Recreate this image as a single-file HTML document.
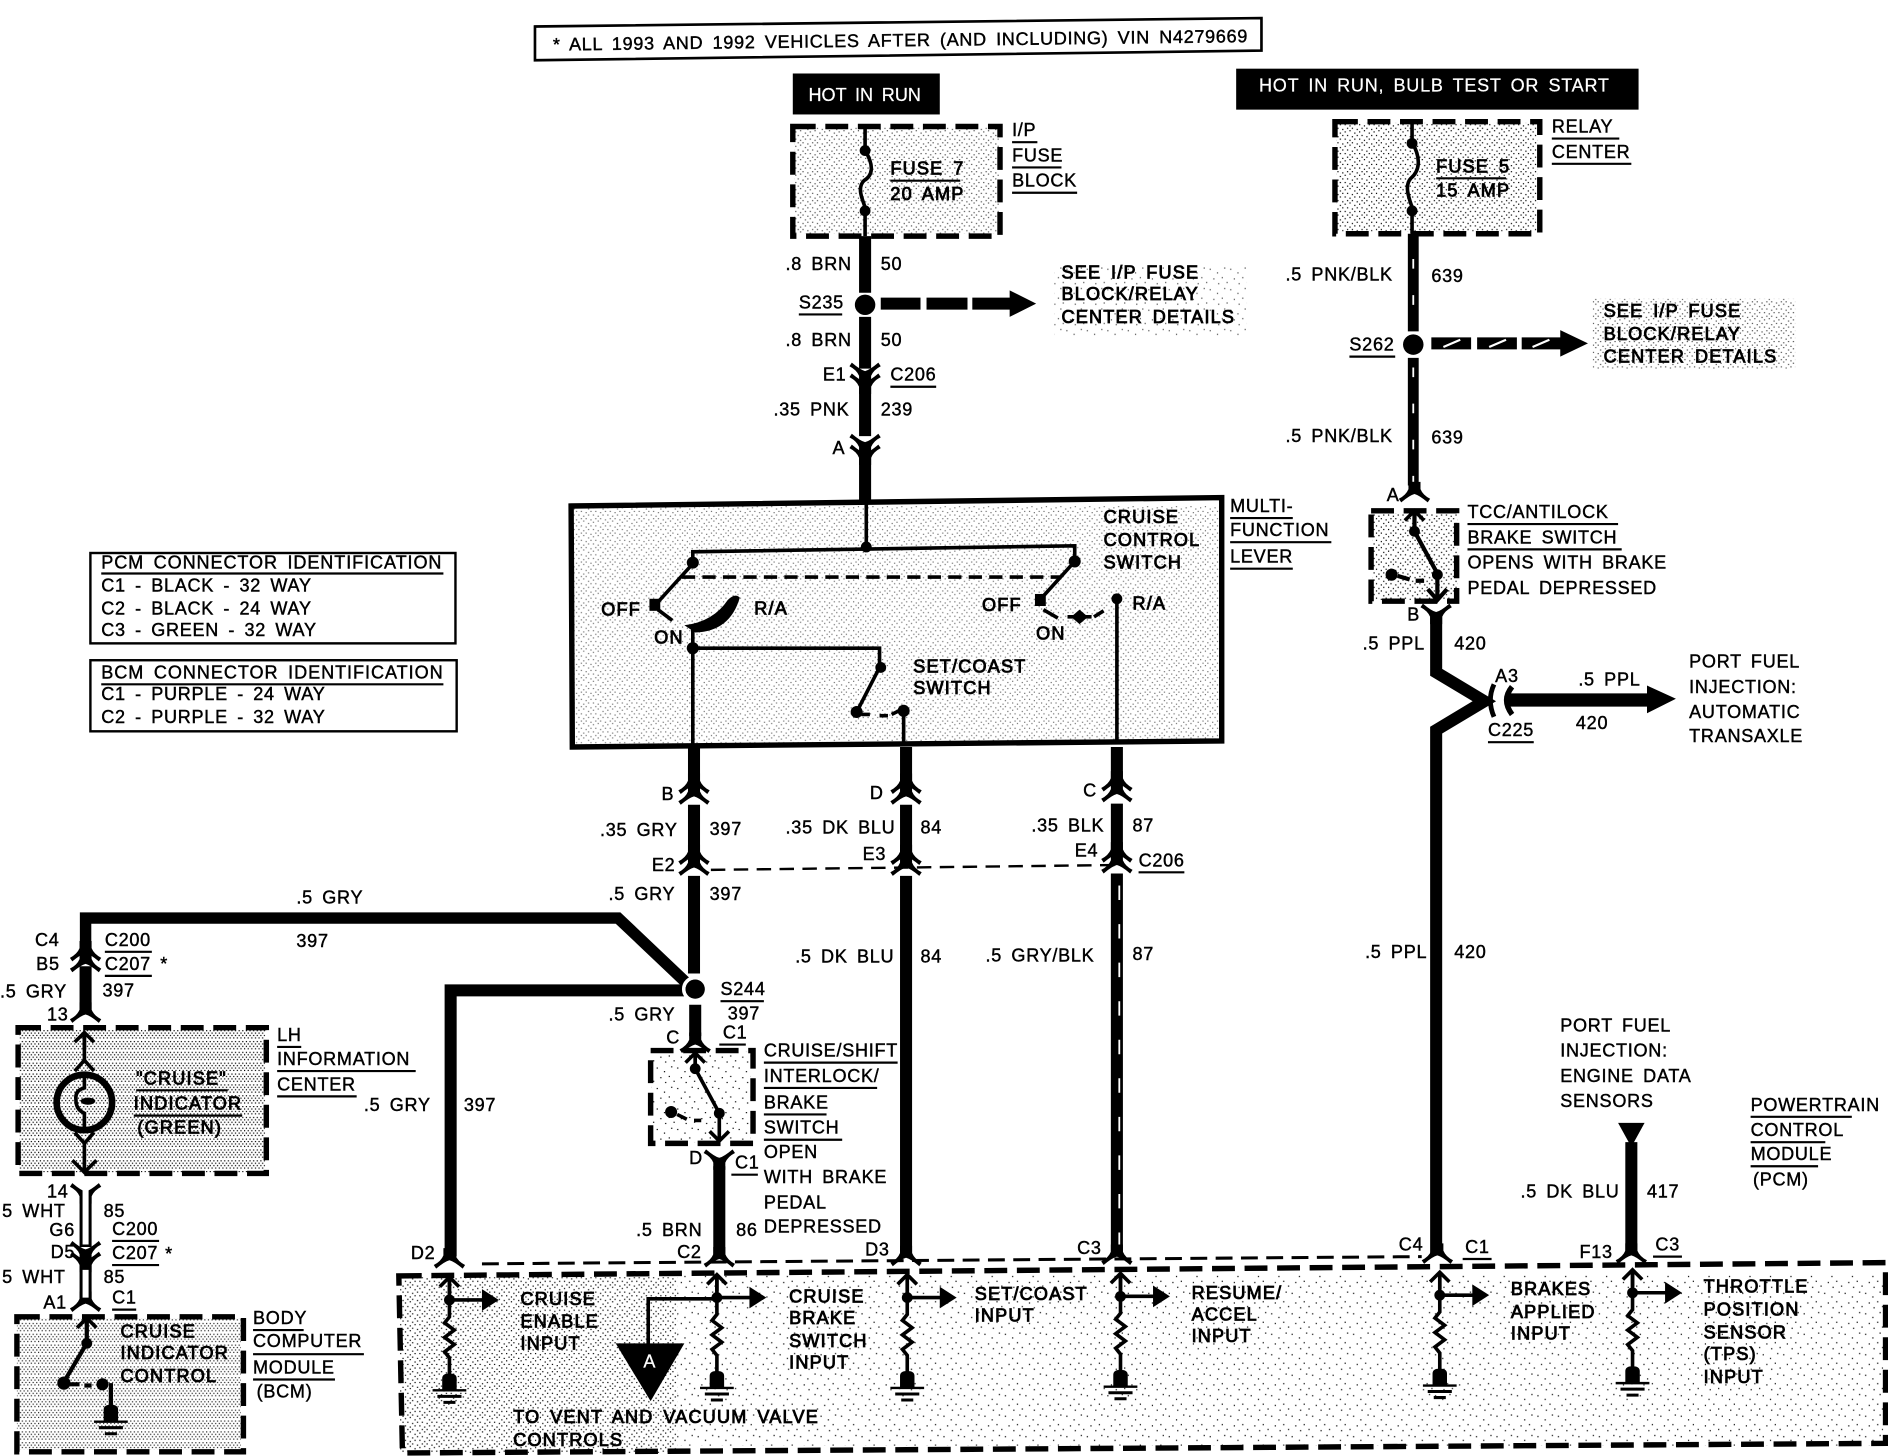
<!DOCTYPE html>
<html><head><meta charset="utf-8"><title>Cruise control wiring diagram</title>
<style>
html,body{margin:0;padding:0;background:#fff;width:1888px;height:1456px;overflow:hidden}
svg{display:block}
text{font-family:"Liberation Sans",sans-serif;font-size:15px;fill:#000;stroke:#000;stroke-width:.35;letter-spacing:.6px;word-spacing:3px}
.b text{stroke-width:.7;letter-spacing:1px}
.w{fill:#fff;stroke:#fff;stroke-width:.2}
.u{stroke:#000;stroke-width:1.8;fill:none}
.dash{fill:none;stroke:#000;stroke-width:4.5;stroke-dasharray:19 8}
.t{fill:none;stroke:#000;stroke-width:3}
</style></head><body>
<svg xmlns="http://www.w3.org/2000/svg" width="1888" height="1456" viewBox="0 0 1567 1208.5">
<defs>
<pattern id="pd" width="9" height="9" patternUnits="userSpaceOnUse">
<rect x="0" y="0" width="1" height="1"/><rect x="3" y="0" width="1" height="1"/><rect x="6" y="0" width="1" height="1"/>
<rect x="1.5" y="2" width="1" height="1"/><rect x="4.5" y="2" width="1" height="1"/><rect x="7.5" y="2" width="1" height="1"/>
<rect x="0" y="4" width="1" height="1"/><rect x="3" y="4" width="1" height="1"/><rect x="6" y="4" width="1" height="1"/>
<rect x="1.5" y="6" width="1" height="1"/><rect x="4.5" y="6" width="1" height="1"/><rect x="7.5" y="6" width="1" height="1"/>
</pattern>
<pattern id="pm" width="12" height="12" patternUnits="userSpaceOnUse">
<rect x="0" y="1" width="1" height="1"/><rect x="4" y="0" width="1" height="1"/><rect x="8" y="2" width="1" height="1"/>
<rect x="2" y="4" width="1" height="1"/><rect x="6" y="5" width="1" height="1"/><rect x="10" y="4" width="1" height="1"/>
<rect x="0" y="7" width="1" height="1"/><rect x="4" y="8" width="1" height="1"/><rect x="8" y="7" width="1" height="1"/>
<rect x="2" y="10" width="1" height="1"/><rect x="6" y="10" width="1" height="1"/><rect x="10" y="11" width="1" height="1"/>
</pattern>
<pattern id="pl" width="17" height="17" patternUnits="userSpaceOnUse">
<rect x="1" y="2" width="1" height="1"/><rect x="7" y="5" width="1" height="1"/><rect x="13" y="1" width="1" height="1"/>
<rect x="4" y="10" width="1" height="1"/><rect x="11" y="9" width="1" height="1"/><rect x="15" y="13" width="1" height="1"/>
<rect x="8" y="14" width="1" height="1"/>
</pattern>
<path id="a" d="M-5,-11 L-5,-5 Q-7,0 -13,3 L-11,6 Q-4,0 0,-1 Q4,0 11,6 L13,3 Q7,0 5,-5 L5,-11Z"/>
<g id="cu"><use href="#a" y="-4"/><use href="#a" y="5"/></g>
<g id="cd"><use href="#a" transform="scale(1,-1) translate(0,-4)"/><use href="#a" transform="scale(1,-1) translate(0,5)"/></g>
<path id="ti" d="M-8,8 L0,0 L8,8 M0,0 V14" fill="none" stroke="#000" stroke-width="3"/>
<g id="gnd"><path d="M-6,13 V4 Q-6,0 0,0 Q6,0 6,4 V13 H14 V15 H-14 V13Z"/><path d="M-10,19 H10 M-5,24 H5" stroke="#000" stroke-width="2.5" fill="none"/></g>
<g id="inp">
<use href="#ti" y="-19"/>
<path d="M0,-19 V14 L-4,19 L4,25 L-4,31 L4,37 L-4,43 L0,48 V62" fill="none" stroke="#000" stroke-width="3"/>
<circle r="4.5"/>
<path d="M0,0 H28" stroke="#000" stroke-width="3"/>
<path d="M27,-9 L41,0 L27,9Z"/>
<use href="#gnd" y="61"/>
</g>
</defs>

<!-- stipple fills -->
<rect x="659" y="106" width="170" height="88" fill="url(#pm)" opacity=".7"/>
<rect x="1109" y="102" width="167" height="90" fill="url(#pm)"/>
<rect x="476" y="420" width="536" height="197" fill="url(#pm)" opacity=".55"/>
<rect x="16" y="854" width="204" height="119" fill="url(#pd)"/>
<rect x="14" y="1094" width="186" height="109" fill="url(#pd)" opacity=".85"/>
<rect x="332" y="1060" width="230" height="146" fill="url(#pm)"/>
<rect x="562" y="1058" width="1001" height="142" fill="url(#pl)"/>
<rect x="1139" y="426" width="71" height="72" fill="url(#pm)"/>
<rect x="541" y="873" width="82" height="75" fill="url(#pl)"/>
<rect x="875" y="220" width="160" height="60" fill="url(#pl)" opacity=".7"/>
<rect x="1322" y="248" width="168" height="58" fill="url(#pm)" opacity=".7"/>

<!-- top note -->
<polygon points="444,22 1047,15 1047,42 444,50" fill="#fff" stroke="#000" stroke-width="2.2"/>
<text x="459" y="42" transform="rotate(-.7 459 42)" textLength="577">* ALL 1993 AND 1992 VEHICLES AFTER (AND INCLUDING) VIN N4279669</text>

<!-- hot boxes -->
<rect x="658" y="61" width="122" height="34"/>
<text class="w" x="671" y="84" textLength="94">HOT IN RUN</text>
<rect x="1026" y="57" width="334" height="34"/>
<text class="w" x="1045" y="76" textLength="291">HOT IN RUN, BULB TEST OR START</text>

<!-- I/P fuse -->
<rect x="658" y="105" width="172" height="91" class="dash"/>
<path d="M718,105 V125 C726,138 724,146 717,150 C711,156 716,166 718,172 V196" class="t"/>
<circle cx="718" cy="125" r="4.5"/><circle cx="718" cy="175" r="4.5"/>
<g class="b"><text x="739" y="145">FUSE 7</text><text x="739" y="166">20 AMP</text></g>
<path class="u" d="M739 150h58"/>
<text x="840" y="113">I/P</text><text x="840" y="134">FUSE</text><text x="840" y="155">BLOCK</text>
<path class="u" d="M840 118h21M840 139h41M840 160h54"/>

<!-- 718 wire -->
<path d="M718,196 V243 M718,263 V306 M718,321 V362 M718,378 V416" stroke="#000" stroke-width="10" fill="none"/>
<circle cx="718" cy="253" r="8.5"/>
<path d="M731,252 H764 M769,252 H803 M807,252 H841" stroke="#000" stroke-width="10" fill="none"/>
<path d="M838,241 L860,252 L838,263Z"/>
<use href="#cd" x="718" y="312"/><use href="#cd" x="718" y="371"/>
<text x="652" y="224">.8 BRN</text><text x="731" y="224">50</text>
<text x="663" y="256">S235</text><path class="u" d="M663 261h36"/>
<text x="652" y="287">.8 BRN</text><text x="731" y="287">50</text>
<text x="683" y="316">E1</text><text x="739" y="316">C206</text><path class="u" d="M739 321h38"/>
<text x="642" y="345">.35 PNK</text><text x="731" y="345">239</text><text x="691" y="377">A</text>
<g class="b"><text x="881" y="231">SEE I/P FUSE</text><text x="881" y="249">BLOCK/RELAY</text><text x="881" y="268">CENTER DETAILS</text></g>

<!-- Multifunction switch -->
<polygon points="474,420 1014,413 1014,615 475,620" fill="none" stroke="#000" stroke-width="4.5"/>
<path d="M719,415 V454" class="t"/><circle cx="719" cy="454" r="4.5"/>
<path d="M575,468 V458 L892,453 V466 M574,469 L544,502 M892,466 L863,498" class="t"/>
<circle cx="575" cy="467" r="5"/><circle cx="892" cy="466" r="5"/>
<rect x="539" y="497" width="9" height="10"/><rect x="859" y="493" width="9" height="10"/>
<path d="M566,479 H880" stroke="#000" stroke-width="3" stroke-dasharray="11 6" fill="none"/>
<path d="M614,496 Q606,524 577,525 L568,519 Q592,516 604,498 Q610,492 614,496Z"/>
<path d="M546,506 L558,515 M866,506 L878,513 M886,512 H906 M908,512 L916,507" class="t"/>
<path d="M896,506 L903,512 L896,518 L889,512Z"/>
<path d="M575,520 V618 M575,538 H730 V554 L711,591 M750,590 V618 M927,497 V616" class="t"/>
<circle cx="575" cy="538" r="5"/><circle cx="731" cy="554" r="4.5"/><circle cx="711" cy="591" r="5"/><circle cx="750" cy="590" r="5"/><circle cx="927" cy="497" r="4.5"/>
<path d="M715,593 H722 M730,594 H737 M740,593 L746,590" class="t"/>
<g class="b"><text x="916" y="434">CRUISE</text><text x="916" y="453">CONTROL</text><text x="916" y="472">SWITCH</text>
<text x="499" y="511">OFF</text><text x="626" y="510">R/A</text><text x="543" y="534">ON</text>
<text x="815" y="507">OFF</text><text x="860" y="531">ON</text><text x="940" y="506">R/A</text>
<text x="758" y="558">SET/COAST</text><text x="758" y="576">SWITCH</text></g>
<text x="1021" y="425">MULTI-</text><text x="1021" y="445">FUNCTION</text><text x="1021" y="467">LEVER</text>
<path class="u" d="M1021 430h52M1021 450h84M1021 472h52"/>

<!-- ID boxes -->
<rect x="75" y="459" width="303" height="75" fill="none" stroke="#000" stroke-width="2"/>
<text x="84" y="472" textLength="283">PCM CONNECTOR IDENTIFICATION</text><path class="u" d="M84 476h284"/>
<text x="84" y="491">C1 - BLACK - 32 WAY</text><text x="84" y="510">C2 - BLACK - 24 WAY</text><text x="84" y="528">C3 - GREEN - 32 WAY</text>
<rect x="75" y="548" width="304" height="59" fill="none" stroke="#000" stroke-width="2"/>
<text x="84" y="563" textLength="284">BCM CONNECTOR IDENTIFICATION</text><path class="u" d="M84 568h284"/>
<text x="84" y="581">C1 - PURPLE - 24 WAY</text><text x="84" y="600">C2 - PURPLE - 32 WAY</text>

<!-- vertical wires below switch -->
<path d="M576,620 V650 M576,668 V709 M576,727 V808 M577,834 V860 M752,620 V650 M752,668 V709 M752,727 V1043 M927,620 V649 M927,667 V707 M927,725 V1043 M597,968 V1043" stroke="#000" stroke-width="10" fill="none"/>
<path d="M929,735 V1035" stroke="#fff" stroke-width="1.5" stroke-dasharray="12 20" fill="none"/>
<use href="#cu" x="576" y="657"/><use href="#cu" x="752" y="657"/><use href="#cu" x="927" y="655"/>
<use href="#cu" x="576" y="716"/><use href="#cu" x="752" y="716"/><use href="#cu" x="927" y="714"/>
<path d="M590,722 L925,718" stroke="#000" stroke-width="2" stroke-dasharray="12 7" fill="none"/>
<text x="549" y="664">B</text><text x="498" y="694">.35 GRY</text><text x="589" y="693">397</text>
<text x="652" y="692">.35 DK BLU</text><text x="764" y="692">84</text><text x="722" y="663">D</text>
<text x="899" y="661">C</text><text x="856" y="690">.35 BLK</text><text x="940" y="690">87</text>
<text x="541" y="723">E2</text><text x="716" y="714">E3</text><text x="892" y="711">E4</text>
<text x="945" y="719">C206</text><path class="u" d="M945 724h38"/>
<text x="505" y="747">.5 GRY</text><text x="589" y="747">397</text>
<text x="660" y="799">.5 DK BLU</text><text x="764" y="799">84</text>
<text x="818" y="798">.5 GRY/BLK</text><text x="940" y="797">87</text>

<!-- S244 and left wires -->
<path d="M71,790 V762 H513 L572,818" stroke="#000" stroke-width="9.5" fill="none" stroke-linejoin="miter"/>
<path d="M374,1043 V822 H570" stroke="#000" stroke-width="10" fill="none"/>
<circle cx="577" cy="821" r="9.5" fill="none" stroke="#fff" stroke-width="3"/><circle cx="577" cy="821" r="8"/>
<use href="#cu" x="71" y="796"/><path d="M71,802 V838" stroke="#000" stroke-width="10"/><use href="#a" x="71" y="843"/>
<text x="246" y="750">.5 GRY</text><text x="246" y="786">397</text>
<text x="29" y="785">C4</text><text x="87" y="785">C200</text><text x="30" y="805">B5</text><text x="87" y="805">C207</text><text x="133" y="805">*</text>
<path class="u" d="M87 790h39M87 810h39"/>
<text x="0" y="828">.5 GRY</text><text x="85" y="827">397</text><text x="39" y="847">13</text>
<text x="302" y="922">.5 GRY</text><text x="385" y="922">397</text><text x="341" y="1045">D2</text>
<text x="598" y="826">S244</text><path class="u" d="M598 831h36"/>
<text x="505" y="847">.5 GRY</text><text x="604" y="846">397</text>
<text x="553" y="866">C</text><text x="600" y="862">C1</text><path class="u" d="M597 867h22"/>

<!-- LH info center -->
<rect x="15" y="853" width="206" height="121" class="dash"/>
<use href="#ti" x="70" y="857"/>
<path d="M70,857 V882 M70,947 V972 M62,889 L70,880 L78,889 M62,940 L70,949 L78,940 M60,963 L70,973 L80,963" class="t"/>
<circle cx="70" cy="915" r="23" fill="none" stroke="#000" stroke-width="5.5"/>
<path d="M70,892 V903 Q62,905 63,913 Q63,921 70,924 V938" class="t"/>
<ellipse cx="73" cy="914" rx="6" ry="3"/>
<g class="b"><text x="113" y="900">"CRUISE"</text><text x="111" y="921">INDICATOR</text><text x="114" y="941">(GREEN)</text></g>
<path class="u" d="M113 905h76M111 926h90"/>
<text x="230" y="864">LH</text><text x="230" y="884">INFORMATION</text><text x="230" y="905">CENTER</text>
<path class="u" d="M230 869h20M230 889h115M230 910h66"/>

<!-- white wire -->
<path d="M71,990 V1035 M71,1050 V1080" stroke="#000" stroke-width="10" fill="none"/>
<use href="#a" transform="translate(71,988) scale(1,-1)"/>
<use href="#cd" x="71" y="1041"/>
<use href="#a" x="71" y="1083"/>
<path d="M71,987 V1033 M71,1054 V1077" stroke="#fff" stroke-width="5" fill="none"/>
<text x="39" y="994">14</text>
<text x="-3" y="1010">.5 WHT</text><text x="86" y="1010">85</text>
<text x="41" y="1026">G6</text><text x="93" y="1025">C200</text><path class="u" d="M93 1030h39"/>
<text x="42" y="1044">D5</text><text x="93" y="1045">C207</text><path class="u" d="M93 1050h39"/><text x="137" y="1046">*</text>
<text x="-3" y="1065">.5 WHT</text><text x="86" y="1065">85</text>
<text x="36" y="1086">A1</text><text x="93" y="1082">C1</text><path class="u" d="M93 1087h20"/>

<!-- BCM -->
<rect x="14" y="1093" width="188" height="112" class="dash"/>
<use href="#ti" x="72" y="1094"/>
<path d="M72,1094 V1115 L53,1147 M58,1149 H66 M70,1150 H76 M92,1148 V1170" fill="none" stroke="#000" stroke-width="3.5"/>
<circle cx="72" cy="1115" r="4.5"/><circle cx="53" cy="1148" r="5.5"/><circle cx="85" cy="1149" r="5"/>
<use href="#gnd" x="92" y="1166"/>
<g class="b"><text x="100" y="1110">CRUISE</text><text x="100" y="1128">INDICATOR</text><text x="100" y="1147">CONTROL</text></g>
<text x="210" y="1099">BODY</text><text x="210" y="1118">COMPUTER</text><text x="210" y="1140">MODULE</text><text x="213" y="1160">(BCM)</text>
<path class="u" d="M210 1104h42M210 1124h92M210 1145h68"/>

<!-- Cruise/shift switch -->
<use href="#a" x="577" y="868"/>
<rect x="540" y="872" width="85" height="77" class="dash"/>
<use href="#ti" x="577" y="874"/>
<path d="M577,874 V887 L597,924 V947 M562,925 L570,929 M576,930 H582 M589,939 L597,947 L605,939" class="t"/>
<circle cx="577" cy="887" r="4.5"/><circle cx="597" cy="924" r="4.5"/><circle cx="557" cy="923" r="5"/>
<use href="#a" transform="translate(597,960) scale(1,-1)"/>
<text x="634" y="877">CRUISE/SHIFT</text><text x="634" y="898">INTERLOCK/</text><text x="634" y="920">BRAKE</text><text x="634" y="941">SWITCH</text>
<path class="u" d="M634 882h111M634 903h94M634 925h52M634 946h65"/>
<text x="634" y="961">OPEN</text><text x="634" y="982">WITH BRAKE</text><text x="634" y="1003">PEDAL</text><text x="634" y="1023">DEPRESSED</text>
<text x="572" y="966">D</text><text x="610" y="970">C1</text><path class="u" d="M607 975h22"/>
<text x="528" y="1026">.5 BRN</text><text x="611" y="1026">86</text><text x="562" y="1044">C2</text>

<!-- Relay center -->
<rect x="1108" y="101" width="170" height="93" class="dash"/>
<path d="M1172,101 V118 C1180,132 1178,142 1171,148 C1165,154 1170,166 1172,172 V194" class="t"/>
<circle cx="1172" cy="119" r="4.5"/><circle cx="1172" cy="175" r="4.5"/>
<g class="b"><text x="1192" y="143">FUSE 5</text><text x="1192" y="163">15 AMP</text></g>
<path class="u" d="M1192 148h58"/>
<text x="1288" y="110">RELAY</text><text x="1288" y="131">CENTER</text><path class="u" d="M1288 115h56M1288 136h66"/>

<path d="M1173,194 V275 M1173,297 V403" stroke="#000" stroke-width="9" fill="none"/>
<path d="M1173,215 V270 M1173,305 V400" stroke="#fff" stroke-width="1.5" stroke-dasharray="8 22" fill="none"/>
<circle cx="1173" cy="286" r="8.5"/>
<path d="M1188,285 H1221 M1226,285 H1259 M1263,285 H1296" stroke="#000" stroke-width="10" fill="none"/>
<path d="M1198,288 L1212,282 M1236,288 L1250,282 M1272,288 L1286,282" stroke="#fff" stroke-width="1.8"/>
<path d="M1295,274 L1318,285 L1295,296Z"/>
<text x="1067" y="233">.5 PNK/BLK</text><text x="1188" y="234">639</text>
<text x="1120" y="291">S262</text><path class="u" d="M1120 296h38"/>
<g class="b"><text x="1331" y="263">SEE I/P FUSE</text><text x="1331" y="282">BLOCK/RELAY</text><text x="1331" y="301">CENTER DETAILS</text></g>
<text x="1067" y="367">.5 PNK/BLK</text><text x="1188" y="368">639</text>
<use href="#a" x="1174" y="411"/>
<text x="1151" y="416">A</text>

<!-- TCC -->
<rect x="1138" y="424" width="71" height="75" class="dash"/>
<use href="#ti" x="1174" y="424"/>
<path d="M1174,424 V441 L1193,476 V497 M1160,478 L1170,481 M1175,482 H1182 M1185,489 L1193,498 L1201,489" fill="none" stroke="#000" stroke-width="3.5"/>
<circle cx="1174" cy="441" r="4.5"/><circle cx="1193" cy="477" r="4.5"/><circle cx="1155" cy="477" r="5"/>
<text x="1218" y="430">TCC/ANTILOCK</text><text x="1218" y="451">BRAKE SWITCH</text><text x="1218" y="472">OPENS WITH BRAKE</text><text x="1218" y="493">PEDAL DEPRESSED</text>
<path class="u" d="M1218 435h125M1218 456h128"/>
<use href="#a" transform="translate(1192,507) scale(1,-1)"/>
<text x="1168" y="515">B</text>

<!-- Y branch -->
<path d="M1192,512 V558 L1232,582 L1192,606 V1042" stroke="#000" stroke-width="10" fill="none" stroke-linejoin="miter"/>
<path d="M1240,568 Q1234,581 1240,595" stroke="#000" stroke-width="4" fill="none"/>
<path d="M1255,570 Q1246,581 1255,593" stroke="#000" stroke-width="4.5" fill="none"/>
<path d="M1250,581 H1368" stroke="#000" stroke-width="11"/>
<path d="M1367,569 L1391,580 L1367,592Z"/>
<text x="1131" y="539">.5 PPL</text><text x="1207" y="539">420</text>
<text x="1241" y="566">A3</text><text x="1235" y="611">C225</text><path class="u" d="M1235 616h38"/>
<text x="1310" y="569">.5 PPL</text><text x="1308" y="605">420</text>
<text x="1402" y="554">PORT FUEL</text><text x="1402" y="575">INJECTION:</text><text x="1402" y="596">AUTOMATIC</text><text x="1402" y="616">TRANSAXLE</text>
<text x="1133" y="795">.5 PPL</text><text x="1207" y="795">420</text>
<text x="1161" y="1038">C4</text><text x="1216" y="1040">C1</text><path class="u" d="M1214 1045h24"/>

<!-- PFI data -->
<text x="1295" y="856">PORT FUEL</text><text x="1295" y="877">INJECTION:</text><text x="1295" y="898">ENGINE DATA</text><text x="1295" y="919">SENSORS</text>
<path d="M1343,932 H1365 L1354,952Z"/>
<path d="M1354,948 V1040" stroke="#000" stroke-width="10"/>
<text x="1262" y="994">.5 DK BLU</text><text x="1367" y="994">417</text>
<text x="1311" y="1044">F13</text><text x="1374" y="1038">C3</text><path class="u" d="M1372 1043h24"/>
<text x="1453" y="922">POWERTRAIN</text><text x="1453" y="943">CONTROL</text><text x="1453" y="963">MODULE</text><text x="1455" y="984">(PCM)</text>
<path class="u" d="M1453 927h84M1453 948h62M1453 968h56"/>

<!-- PCM -->
<path d="M400,1049 L1180,1043" stroke="#000" stroke-width="2.5" stroke-dasharray="14 7" fill="none"/>
<polygon points="331,1059 1565,1048 1565,1198 334,1206" class="dash"/>
<use href="#a" x="373" y="1047"/><use href="#a" x="597" y="1046"/><use href="#a" x="752" y="1045"/><use href="#a" x="927" y="1044"/><use href="#a" x="1193" y="1043"/><use href="#a" x="1354" y="1043"/>
<use href="#inp" x="373" y="1079"/><use href="#inp" x="595" y="1077"/><use href="#inp" x="753" y="1077"/><use href="#inp" x="930" y="1076"/><use href="#inp" x="1195" y="1075"/><use href="#inp" x="1355" y="1073"/>
<path d="M595,1078 H538 V1116" class="t"/>
<polygon points="511,1115 568,1115 540,1163"/>
<text class="w" x="534" y="1135">A</text>
<g class="b">
<text x="432" y="1083">CRUISE</text><text x="432" y="1102">ENABLE</text><text x="432" y="1120">INPUT</text>
<text x="655" y="1081">CRUISE</text><text x="655" y="1099">BRAKE</text><text x="655" y="1118">SWITCH</text><text x="655" y="1136">INPUT</text>
<text x="809" y="1079">SET/COAST</text><text x="809" y="1097">INPUT</text>
<text x="989" y="1078">RESUME/</text><text x="989" y="1096">ACCEL</text><text x="989" y="1114">INPUT</text>
<text x="1254" y="1075">BRAKES</text><text x="1254" y="1094">APPLIED</text><text x="1254" y="1112">INPUT</text>
<text x="1414" y="1073">THROTTLE</text><text x="1414" y="1092">POSITION</text><text x="1414" y="1111">SENSOR</text><text x="1414" y="1129">(TPS)</text><text x="1414" y="1148">INPUT</text>
<text x="426" y="1181">TO VENT AND VACUUM VALVE</text><text x="426" y="1200">CONTROLS</text>
</g>
<text x="718" y="1042">D3</text><text x="894" y="1041">C3</text>
</svg>
</body></html>
